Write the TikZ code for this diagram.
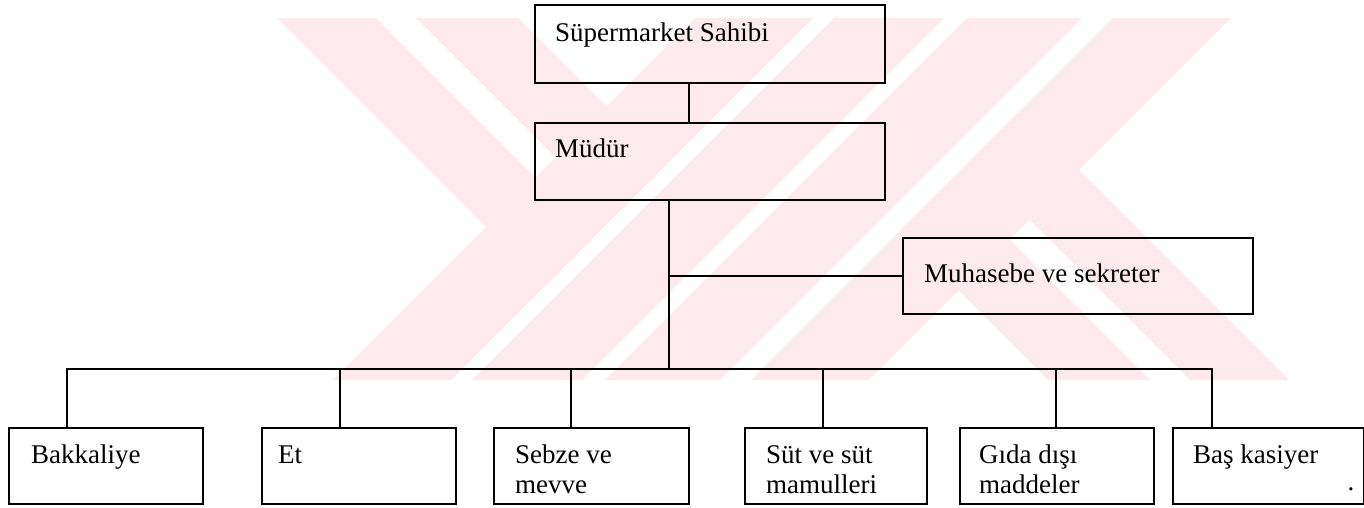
\documentclass[tikz,border=0pt]{standalone}
\usepackage{fontspec}
\setmainfont{Liberation Serif}
\definecolor{wmpink}{RGB}{253,234,238}
\begin{document}
\begin{tikzpicture}[x=1pt,y=-1pt,
  box/.style={draw=black, line width=1.6pt, rectangle, inner sep=0pt, anchor=north west, minimum height=76pt},
  wire/.style={draw=black, line width=1.6pt},
  lbl/.style={anchor=base west, inner sep=0pt, font=\fontsize{27}{30}\selectfont, align=left},
  wm/.style={fill=wmpink}
]
\useasboundingbox (0,0) rectangle (1364,508);

% faint striped emblem in the background
\fill[wm] (695,18) -- (813,18) -- (451,380) -- (333,380) -- cycle;
\fill[wm] (834,18) -- (944,18) -- (582,380) -- (472,380) -- cycle;
\fill[wm] (967,18) -- (1082,18) -- (720,380) -- (605,380) -- cycle;
\fill[wm] (1113,18) -- (1231,18) -- (869,380) -- (751,380) -- cycle;
\fill[wm] (277,18) -- (376,18) -- (594.5,236.5) -- (545,286) -- cycle;
\fill[wm] (416,18) -- (518,18) -- (665.5,165.5) -- (614.5,216.5) -- cycle;
\fill[wm] (970.5,160.5) -- (1020,111) -- (1289,380) -- (1190,380) -- cycle;
\fill[wm] (899.5,231.5) -- (950.5,180.5) -- (1150,380) -- (1048,380) -- cycle;

% boxes
\node[box, minimum width=350pt, minimum height=78pt] (owner) at (534,4) {};
\node[box, minimum width=350pt, minimum height=77pt] (mgr) at (534,122) {};
\node[box, minimum width=350pt] (acc) at (902,237) {};
\node[box, minimum width=194pt] (groc) at (8,427) {};
\node[box, minimum width=194pt] (meat) at (261,427) {};
\node[box, minimum width=195pt] (veg) at (493,427) {};
\node[box, minimum width=182pt] (dairy) at (744,427) {};
\node[box, minimum width=194pt] (nonfood) at (959,427) {};
\node[box, minimum width=191pt] (cash) at (1172,427) {};

% labels (two-line labels are anchored on their last baseline)
\node[lbl] (tOwner) at (555,42) {Süpermarket Sahibi};
\node[lbl] (tMgr) at (555,157) {Müdür};
\node[lbl] (tAcc) at (924,282) {Muhasebe ve sekreter};
\node[lbl] (tGroc) at (31,463) {Bakkaliye};
\node[lbl] (tMeat) at (278,463) {Et};
\node[lbl] (tVeg) at (515,493) {Sebze ve\\mevve};
\node[lbl] (tDairy) at (766,493) {Süt ve süt\\mamulleri};
\node[lbl] (tNonfood) at (979,493) {Gıda dışı\\maddeler};
\node[lbl] (tCash) at (1193,463) {Baş kasiyer};
\node[lbl, anchor=base] (speck) at (1351,490) {.};

% connectors
\coordinate (hub) at (669,369);
\draw[wire] (owner.south -| 689,0) -- (mgr.north -| 689,0);
\draw[wire] (mgr.south -| hub) -- (hub);
\draw[wire] (hub |- acc.west) -- (acc.west);
\draw[wire] (groc.north -| 67,0) |- (hub) -| (cash.north -| 1212,0);
\draw[wire] (meat.north -| 340,0) -- (hub -| 340,0);
\draw[wire] (veg.north -| 571,0) -- (hub -| 571,0);
\draw[wire] (dairy.north -| 823,0) -- (hub -| 823,0);
\draw[wire] (nonfood.north -| 1056,0) -- (hub -| 1056,0);
\end{tikzpicture}
\end{document}
